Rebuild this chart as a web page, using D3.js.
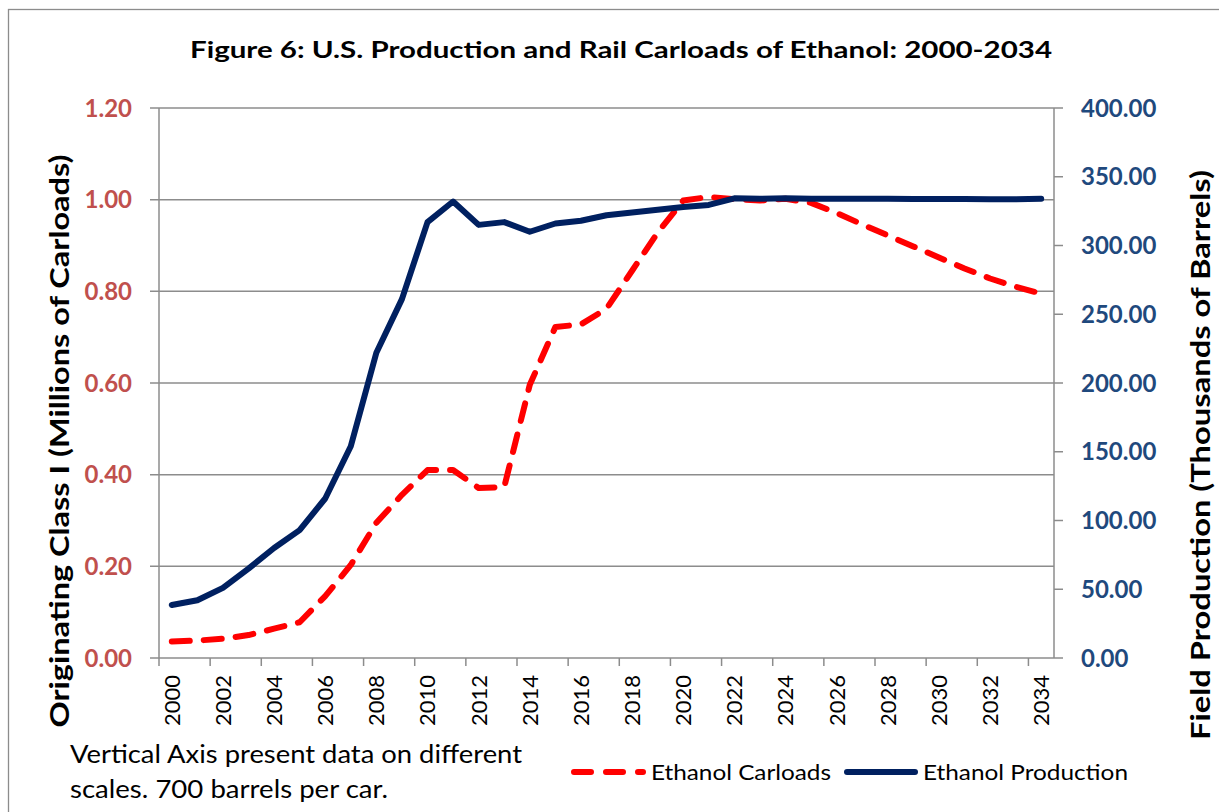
<!DOCTYPE html>
<html><head><meta charset="utf-8">
<script src="https://cdn.jsdelivr.net/npm/d3@7"></script>
<style>body{margin:0;background:#fff;} svg{display:block;}</style>
</head><body>
<script>
const years = d3.range(2000, 2035).map(String);
const carloads = [0.036,0.038,0.042,0.050,0.064,0.078,0.135,0.203,0.295,0.356,0.410,0.410,0.371,0.373,0.596,0.722,0.728,0.762,0.845,0.928,0.998,1.006,1.001,0.998,1.002,0.993,0.971,0.946,0.922,0.898,0.874,0.850,0.828,0.810,0.795];
const production = [38.5,42,51,65,80,93,116,154,222,261,317,332,315,317,310,316,318,322,324,326,328,329.5,334.3,334,334.3,334,334,334,334,333.8,333.8,333.8,333.6,333.6,334];
const leftTicks = [0,0.2,0.4,0.6,0.8,1.0,1.2];
const rightTicks = [0,50,100,150,200,250,300,350,400];
const xLabelYears = years.filter((d,i)=>i%2===0);

const W=1219,H=812;
const svg=d3.select("body").append("svg").attr("width",W).attr("height",H);
const font="Lato, 'Open Sans', sans-serif";
svg.append("rect").attr("x",8.5).attr("y",9.5).attr("width",1230).attr("height",830).attr("fill","#fff").attr("stroke","#8c8c8c").attr("stroke-width",1.3);

const L=159,R=1054,T=108,B=658;
const x=d3.scaleBand().domain(years).range([L,R]);
const yL=d3.scaleLinear().domain([0,1.2]).range([B,T]);
const yR=d3.scaleLinear().domain([0,400]).range([B,T]);
const grey="#8c8c8c";

// gridlines
svg.append("g").selectAll("line").data(leftTicks).join("line")
  .attr("x1",L-9).attr("x2",R).attr("y1",d=>yL(d)).attr("y2",d=>yL(d))
  .attr("stroke",grey).attr("stroke-width",1.5);
svg.append("line").attr("x1",L).attr("x2",L).attr("y1",T).attr("y2",B).attr("stroke",grey).attr("stroke-width",1.5);
svg.append("line").attr("x1",R).attr("x2",R).attr("y1",T).attr("y2",B).attr("stroke",grey).attr("stroke-width",1.5);
svg.append("g").selectAll("line").data(rightTicks).join("line")
  .attr("x1",R).attr("x2",R+9).attr("y1",d=>yR(d)).attr("y2",d=>yR(d))
  .attr("stroke",grey).attr("stroke-width",1.5);
svg.append("g").selectAll("line").data(xLabelYears).join("line")
  .attr("x1",d=>x(d)).attr("x2",d=>x(d)).attr("y1",B).attr("y2",B+8)
  .attr("stroke",grey).attr("stroke-width",1.5);

// left tick labels
svg.append("g").selectAll("text").data(leftTicks).join("text")
  .attr("x",132).attr("y",d=>yL(d)).attr("dy","0.36em").attr("text-anchor","end")
  .attr("font-family",font).attr("font-weight","bold").attr("font-size",24).attr("fill","#C0504D")
  .text(d=>d3.format(".2f")(d));
// right tick labels
svg.append("g").selectAll("text").data(rightTicks).join("text")
  .attr("x",1081).attr("y",d=>yR(d)).attr("dy","0.36em").attr("text-anchor","start")
  .attr("font-family",font).attr("font-weight","bold").attr("font-size",24).attr("fill","#1F497D")
  .text(d=>d3.format(".2f")(d));
// x labels
svg.append("g").selectAll("text").data(xLabelYears).join("text")
  .attr("transform",d=>`translate(${x(d)+x.bandwidth()/2},675) rotate(-90)`)
  .attr("dy","0.36em").attr("text-anchor","end")
  .attr("font-family",font).attr("font-size",22).attr("fill","#000")
  .text(d=>d);

// lines
const lineL=d3.line().x((d,i)=>x(years[i])+x.bandwidth()/2).y(d=>yL(d));
const lineR=d3.line().x((d,i)=>x(years[i])+x.bandwidth()/2).y(d=>yR(d));
svg.append("path").datum(carloads).attr("d",lineL).attr("fill","none").attr("stroke","#FF0000")
  .attr("stroke-width",6).attr("stroke-linecap","round").attr("stroke-linejoin","round").attr("stroke-dasharray","18,14");
svg.append("path").datum(production).attr("d",lineR).attr("fill","none").attr("stroke","#002060")
  .attr("stroke-width",6).attr("stroke-linecap","round").attr("stroke-linejoin","round");

// title
svg.append("text").attr("x",621).attr("y",58).attr("text-anchor","middle")
  .attr("font-family",font).attr("font-weight","bold").attr("font-size",23).attr("fill","#000")
  .attr("textLength",862).attr("lengthAdjust","spacingAndGlyphs")
  .text("Figure 6: U.S. Production and Rail Carloads of Ethanol: 2000-2034");
// axis titles
svg.append("text").attr("transform","translate(60,441) rotate(-90)").attr("dy","0.35em").attr("text-anchor","middle")
  .attr("font-family",font).attr("font-weight","bold").attr("font-size",27).attr("fill","#000")
  .attr("textLength",573).attr("lengthAdjust","spacingAndGlyphs")
  .text("Originating Class I (Millions of Carloads)");
svg.append("text").attr("transform","translate(1201,455) rotate(-90)").attr("dy","0.35em").attr("text-anchor","middle")
  .attr("font-family",font).attr("font-weight","bold").attr("font-size",27).attr("fill","#000")
  .attr("textLength",570).attr("lengthAdjust","spacingAndGlyphs")
  .text("Field Production (Thousands of Barrels)");
// footnote
const foot=["Vertical Axis present data on different","scales. 700 barrels per car."];
const footW=[452,318];
svg.append("g").selectAll("text").data(foot).join("text")
  .attr("x",70).attr("y",(d,i)=>763+i*35).attr("font-family",font).attr("font-size",25).attr("fill","#000")
  .attr("textLength",(d,i)=>footW[i]).attr("lengthAdjust","spacingAndGlyphs")
  .text(d=>d);
// legend
svg.append("line").attr("x1",574).attr("x2",643).attr("y1",772).attr("y2",772).attr("stroke","#FF0000")
  .attr("stroke-width",6).attr("stroke-linecap","round").attr("stroke-dasharray","17,15");
svg.append("text").attr("x",651).attr("y",772).attr("dy","0.36em").attr("font-family",font).attr("font-size",21)
  .attr("textLength",180).attr("lengthAdjust","spacingAndGlyphs").text("Ethanol Carloads");
svg.append("line").attr("x1",847).attr("x2",915).attr("y1",772).attr("y2",772).attr("stroke","#002060")
  .attr("stroke-width",6).attr("stroke-linecap","round");
svg.append("text").attr("x",923).attr("y",772).attr("dy","0.36em").attr("font-family",font).attr("font-size",21)
  .attr("textLength",205).attr("lengthAdjust","spacingAndGlyphs").text("Ethanol Production");
</script>
</body></html>
